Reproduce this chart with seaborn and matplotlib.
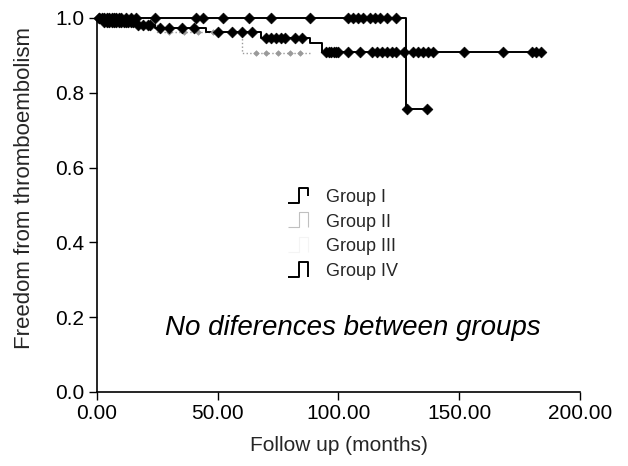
import numpy as np
import pandas as pd
import matplotlib
matplotlib.use("Agg")
import matplotlib.pyplot as plt
from matplotlib.path import Path
from matplotlib.lines import Line2D
import seaborn as sns

# ---------------- data ----------------
groups = ["Group I", "Group II", "Group III", "Group IV"]

g1_event_times = [128]
g1_surv = [0.757]
g1_end = 138
g1_censor = [1, 2, 3, 4, 5, 6, 7, 8, 9, 10, 12, 14, 16, 24, 41, 44, 52, 63, 72,
             88, 104, 106, 108, 110, 113, 115, 117, 120, 124, 128.5, 136.5]

g2_event_times = [5, 25, 60]
g2_surv = [0.985, 0.963, 0.906]
g2_end = 88
g2_censor = [30, 36, 42, 48, 66, 70, 75, 80, 84]

g3_event_times = []
g3_surv = []
g3_end = 60
g3_censor = []

g4_event_times = [2, 16, 24, 45, 68, 88, 93]
g4_surv = [0.99, 0.981, 0.972, 0.962, 0.947, 0.933, 0.91]
g4_end = 184
g4_censor = [1, 3, 4, 5, 6, 7, 8, 9, 10, 11, 12, 13, 14, 15, 17, 19, 21, 22, 26,
             30, 35, 40, 50, 56, 60, 64, 70, 72, 74, 76, 78, 82, 85, 95, 96, 97,
             98, 99, 100, 104, 109, 114, 116, 118, 120, 122, 124, 127, 131, 133,
             135, 137, 139, 152, 168, 180, 182, 184]

xticks = [0, 50, 100, 150, 200]
xticklabels = ["0.00", "50.00", "100.00", "150.00", "200.00"]
yticks = [0.0, 0.2, 0.4, 0.6, 0.8, 1.0]

colors = {"Group I": "black", "Group II": "#9a9a9a", "Group III": "#e6e6e6",
          "Group IV": "black"}

# ---------------- build step tables ----------------
def step_table(name, times, surv, end):
    t = [0] + list(times) + [end]
    s = [1.0] + list(surv) + [list(surv)[-1] if surv else 1.0]
    return pd.DataFrame({"time": t, "surv": s, "group": name})

def surv_at(times, surv, x):
    val = 1.0
    for t, s in zip(times, surv):
        if x >= t:
            val = s
    return val

specs = {
    "Group I": (g1_event_times, g1_surv, g1_end, g1_censor),
    "Group II": (g2_event_times, g2_surv, g2_end, g2_censor),
    "Group III": (g3_event_times, g3_surv, g3_end, g3_censor),
    "Group IV": (g4_event_times, g4_surv, g4_end, g4_censor),
}

lines = pd.concat([step_table(n, *specs[n][:3]) for n in groups], ignore_index=True)
cens_rows = []
for n in groups:
    et, sv, _, cs = specs[n]
    for c in cs:
        cens_rows.append({"time": c, "surv": surv_at(et, sv, c), "group": n})
cens = pd.DataFrame(cens_rows)

# ---------------- plot ----------------
sns.set_style("ticks")
plt.rcParams["font.family"] = ["Liberation Sans", "DejaVu Sans"]

fig = plt.figure(figsize=(6.28, 4.66), dpi=100)
ax = fig.add_axes([0.1545, 0.1588, 0.769, 0.8026])

draw_order = ["Group III", "Group II", "Group IV", "Group I"]
for n in draw_order:
    sub = lines[lines.group == n]
    lw = 1.0 if n in ("Group II", "Group III") else 1.4
    ls = ":" if n == "Group II" else "-"
    sns.lineplot(data=sub, x="time", y="surv", ax=ax, color=colors[n],
                 drawstyle="steps-post", estimator=None, sort=False,
                 linewidth=lw, linestyle=ls, legend=False)
    csub = cens[cens.group == n]
    if len(csub):
        size = 8 if n == "Group II" else 30
        sns.scatterplot(data=csub, x="time", y="surv", ax=ax, color=colors[n],
                        marker="D", s=size, edgecolor=colors[n], linewidth=0.5,
                        legend=False, zorder=3)

ax.set_xlim(0, 200)
ax.set_ylim(0, 1.0)
ax.set_xticks(xticks)
ax.set_xticklabels(xticklabels)
ax.set_yticks(yticks)
ax.set_yticklabels([f"{v:.1f}" for v in yticks])
ax.tick_params(axis="both", labelsize=15, length=6, width=1, colors="black", pad=3)
ax.set_xlabel("Follow up (months)", fontsize=15, labelpad=9)
ax.set_ylabel("Freedom from thromboembolism", fontsize=16)
ax.yaxis.set_label_coords(-0.128, 0.545)
for sp in ["top", "right"]:
    ax.spines[sp].set_visible(False)
for sp in ["left", "bottom"]:
    ax.spines[sp].set_linewidth(1.2)
    ax.spines[sp].set_color("black")
for coll in ax.collections:
    coll.set_clip_on(False)
for ln in ax.lines:
    ln.set_clip_on(False)

ax.text(0.53, 0.171, "No diferences between groups", transform=ax.transAxes,
        ha="center", va="center", fontsize=20, style="italic", color="black")

# legend with step-shaped handles
step_half = Path([(-1.0, -0.5), (-0.25, -0.5), (-0.25, 0.55), (0.45, 0.55), (0.45, 0.0)],
                 [Path.MOVETO] + [Path.LINETO] * 4)
step_full = Path([(-1.0, -0.5), (-0.25, -0.5), (-0.25, 0.55), (0.45, 0.55), (0.45, -0.5)],
                 [Path.MOVETO] + [Path.LINETO] * 4)
handles = [
    Line2D([], [], linestyle="None", marker=step_half, markersize=20,
           markerfacecolor="none", markeredgecolor="black", markeredgewidth=1.4),
    Line2D([], [], linestyle="None", marker=step_full, markersize=20,
           markerfacecolor="none", markeredgecolor="#c0c0c0", markeredgewidth=0.8,
           ),
    Line2D([], [], linestyle="None", marker=step_full, markersize=20,
           markerfacecolor="none", markeredgecolor="#f4f4f4", markeredgewidth=0.8),
    Line2D([], [], linestyle="None", marker=step_full, markersize=20,
           markerfacecolor="none", markeredgecolor="black", markeredgewidth=1.4),
]
ax.legend(handles, groups, loc="upper left", bbox_to_anchor=(0.36, 0.586),
          frameon=False, fontsize=13, labelspacing=0.42, handlelength=1.6,
          handletextpad=0.55)

fig.savefig("out.png", dpi=100)
